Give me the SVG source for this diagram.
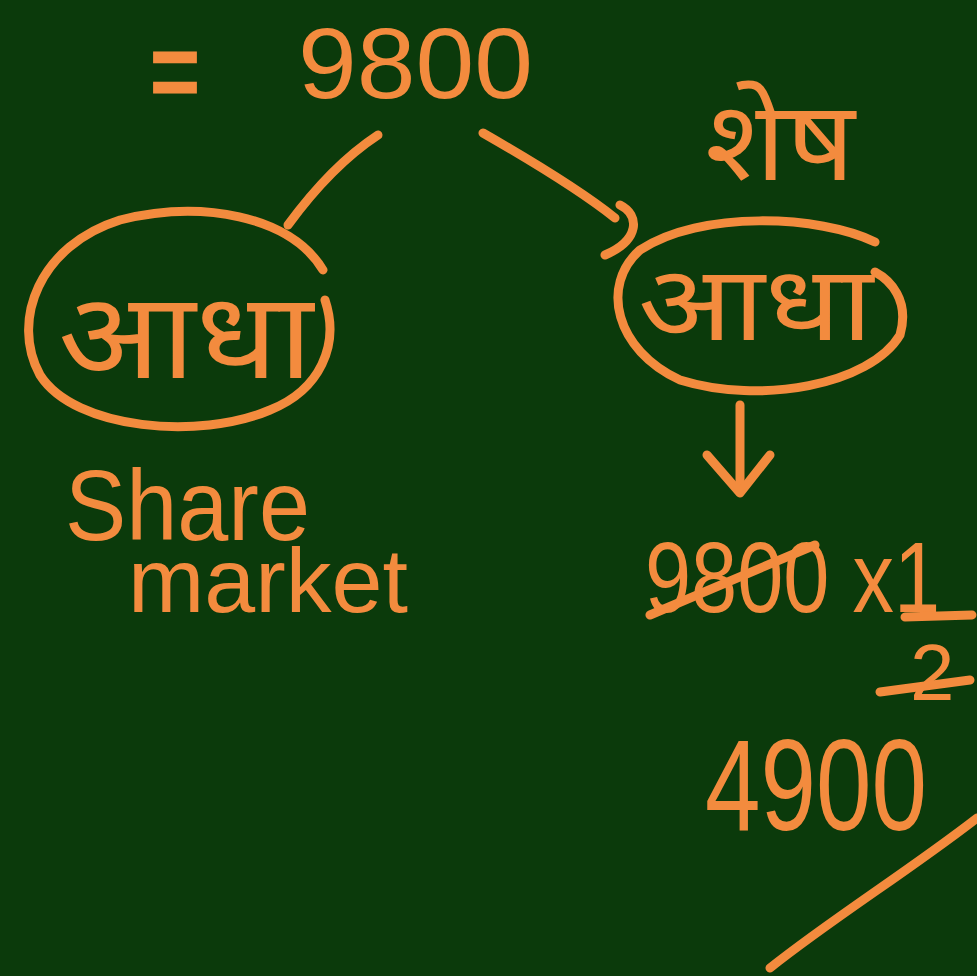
<svg xmlns="http://www.w3.org/2000/svg" width="977" height="976" viewBox="0 0 977 976">
<style>
.t{fill:#f38b3e;font-family:"Liberation Sans","Noto Sans","Noto Sans Devanagari",sans-serif;}
.h{fill:#f38b3e;font-family:"Noto Sans Devanagari","Noto Sans","Lohit Devanagari","Mangal",sans-serif;}
.s{fill:none;stroke:#f38b3e;stroke-width:9;stroke-linecap:round;stroke-linejoin:round;}
</style>
<rect width="977" height="976" fill="#0b3a0b"/>
<g id="total">
<text class="t" x="150" y="112" font-size="120" stroke="#f38b3e" stroke-width="3" textLength="50" lengthAdjust="spacingAndGlyphs">=</text>
<text class="t" x="298" y="98" font-size="100" textLength="235" lengthAdjust="spacingAndGlyphs">9800</text>
</g>
<g id="shesh">
<text class="h" x="705" y="180" font-size="110" textLength="150" lengthAdjust="spacingAndGlyphs">शेष</text>
</g>
<g id="left-node">
<path class="s" d="M323,270 C290,215 200,200 120,220 C40,245 10,320 40,375 C75,430 200,440 270,410 C320,390 340,345 325,300"/>
<text class="h" x="58" y="378" font-size="120" textLength="255" lengthAdjust="spacingAndGlyphs">आधा</text>
<text class="t" x="65" y="540" font-size="100" textLength="245" lengthAdjust="spacingAndGlyphs">Share</text>
<text class="t" x="128" y="612" font-size="90" textLength="280" lengthAdjust="spacingAndGlyphs">market</text>
</g>
<g id="right-node">
<path class="s" d="M875,242 C820,215 700,210 640,250 C600,285 615,350 680,380 C760,405 870,385 900,335 C910,300 890,280 875,272"/>
<text class="h" x="638" y="340" font-size="105" textLength="235" lengthAdjust="spacingAndGlyphs">आधा</text>
</g>
<g id="calc">
<text class="t" x="645" y="612" font-size="100" textLength="295" lengthAdjust="spacingAndGlyphs">9800 x1</text>
<path class="s" d="M650,615 L815,545"/>
<path class="s" d="M905,617 L972,615"/>
<text class="t" x="910" y="700" font-size="80">2</text>
<path class="s" d="M880,692 L970,680"/>
<text class="t" x="705" y="830" font-size="130" textLength="222" lengthAdjust="spacingAndGlyphs">4900</text>
</g>
<g id="connectors">
<path class="s" d="M378,135 C340,160 310,195 288,225"/>
<path class="s" d="M483,133 C530,160 580,190 615,218"/>
<path class="s" d="M620,205 C640,215 640,240 605,255"/>
<path class="s" d="M740,405 L740,492"/>
<path class="s" d="M707,455 L740,493 L770,455"/>
<path class="s" d="M770,968 C830,920 910,870 977,818"/>
</g>
</svg>
